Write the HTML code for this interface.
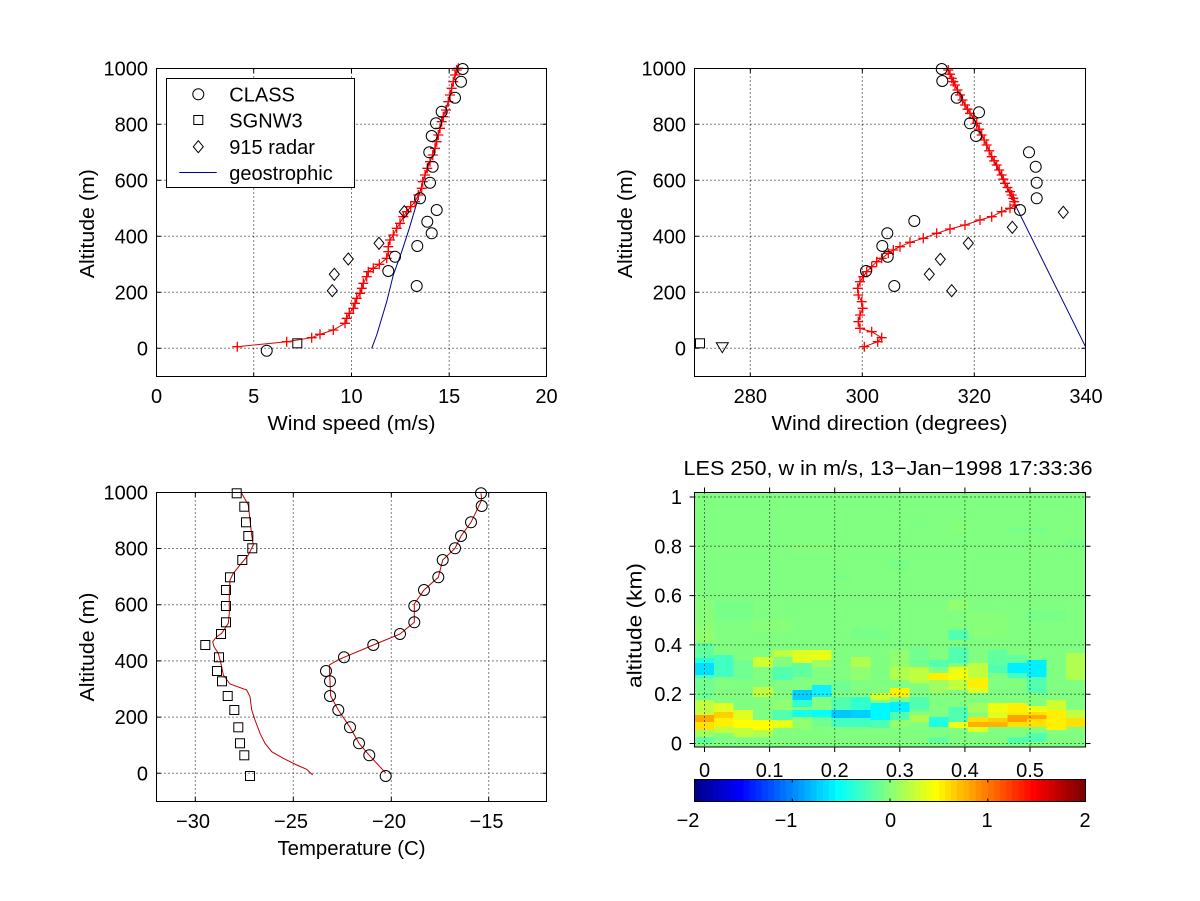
<!DOCTYPE html>
<html><head><meta charset="utf-8"><style>
html,body{margin:0;padding:0;background:#fff;}
svg{display:block;}
text{font-family:"Liberation Sans",Arial,sans-serif;font-size:20px;fill:#000;}
</style></head><body>
<svg width="1200" height="901" viewBox="0 0 1200 901" xmlns="http://www.w3.org/2000/svg">
<defs>
<marker id="pl" markerWidth="10" markerHeight="10" refX="5" refY="5" markerUnits="userSpaceOnUse" overflow="visible"><path d="M0,5H10M5,0V10" stroke="#f00" stroke-width="1.3" fill="none"/></marker>
</defs>
<rect width="1200" height="901" fill="#fff"/>

<!-- ============ TOP LEFT ============ -->
<g stroke="#000" stroke-width="1" stroke-dasharray="1 3" fill="none">
<path d="M253.7,68.5V376.5M351.5,68.5V376.5M449.2,68.5V376.5"/>
<path d="M156.5,348.3H546.5M156.5,292.3H546.5M156.5,236.3H546.5M156.5,180.3H546.5M156.5,124.3H546.5"/>
</g>
<polyline fill="none" stroke="#00008f" stroke-width="1" points="371.7,348.3 376.7,335 386.7,301.7 393.3,275 401.7,251.7 409.3,228.3 416.7,203.3 420,192 422.7,181.7 427.3,168.3 432.7,155 438.3,135 443.3,116.7 448.3,101.7 453.3,81.7 458.3,68.3"/>
<polyline fill="none" stroke="#e00000" stroke-width="1" marker-start="url(#pl)" marker-mid="url(#pl)" marker-end="url(#pl)" points="237.3,346.7 286.7,341.7 311.7,337.7 320,334.3 333.3,330 345,323.3 346.7,318.3 349.3,313.3 353.3,308.3 355,303.3 356.7,298.3 360,293.3 361.7,288.3 363.3,283.3 366.7,276.7 368.3,271.7 373.3,268.3 379.3,264.3 386.7,258.3 388.3,251.7 388.3,246.7 390,240 393.3,235 396.7,228.3 400,223.3 403.3,216.7 406.7,211.7 410.7,206.7 415,201.7 418.3,195 421.7,188.3 422.7,181.7 425,175 427.3,168.3 430,161.7 432.7,155 435,148.3 436.7,141.7 438.3,135 440,128.3 441.7,121.7 443.3,116.7 446,110 448.3,101.7 450,95 451.7,88.3 453.3,81.7 455,75 456.7,70 458.3,68.3"/>
<g fill="none" stroke="#000" stroke-width="1">
<circle cx="266.7" cy="350.7" r="5.5"/><circle cx="462.7" cy="69" r="5.5"/><circle cx="461" cy="81.7" r="5.5"/><circle cx="455" cy="97.7" r="5.5"/><circle cx="441.7" cy="111.7" r="5.5"/><circle cx="436" cy="123.3" r="5.5"/><circle cx="431.7" cy="136" r="5.5"/><circle cx="429.3" cy="152.3" r="5.5"/><circle cx="432.7" cy="166.7" r="5.5"/><circle cx="430" cy="182.7" r="5.5"/><circle cx="420" cy="198.3" r="5.5"/><circle cx="436.7" cy="210" r="5.5"/><circle cx="427.3" cy="221.7" r="5.5"/><circle cx="431.7" cy="233.3" r="5.5"/><circle cx="417.3" cy="246" r="5.5"/><circle cx="395" cy="256.7" r="5.5"/><circle cx="388.3" cy="271" r="5.5"/><circle cx="416.7" cy="286" r="5.5"/>
<rect x="292.8" y="338.8" width="9" height="9"/>
<path d="M332.3,284.7L337.3,290.7L332.3,296.7L327.3,290.7Z"/>
<path d="M334.3,268.3L339.3,274.3L334.3,280.3L329.3,274.3Z"/>
<path d="M348.3,253L353.3,259L348.3,265L343.3,259Z"/>
<path d="M379,237.3L384,243.3L379,249.3L374,243.3Z"/>
<path d="M404.3,205.7L409.3,211.7L404.3,217.7L399.3,211.7Z"/>
</g>
<rect x="166.5" y="78.5" width="188" height="109" fill="#fff" stroke="#000" stroke-width="1"/>
<g fill="none" stroke="#000" stroke-width="1">
<circle cx="198.3" cy="94.3" r="5.5"/>
<rect x="193.8" y="115.5" width="9" height="9"/>
<path d="M198.3,140.7L203.3,146.7L198.3,152.7L193.3,146.7Z"/>
</g>
<line x1="179.3" y1="172.5" x2="216.7" y2="172.5" stroke="#00008f" stroke-width="1"/>
<text x="229.3" y="101.5">CLASS</text>
<text x="229.3" y="127.7">SGNW3</text>
<text x="229.3" y="154">915 radar</text>
<text x="229.3" y="180">geostrophic</text>
<rect x="156.5" y="68.5" width="390" height="308" fill="none" stroke="#000" stroke-width="1"/>
<g stroke="#000" stroke-width="1">
<path d="M253.7,376.5v-4M351.5,376.5v-4M449.2,376.5v-4M253.7,68.5v4M351.5,68.5v4M449.2,68.5v4"/>
<path d="M156.5,348.3h4M156.5,292.3h4M156.5,236.3h4M156.5,180.3h4M156.5,124.3h4M546.5,348.3h-4M546.5,292.3h-4M546.5,236.3h-4M546.5,180.3h-4M546.5,124.3h-4"/>
</g>
<g text-anchor="end">
<text x="148" y="75.3">1000</text><text x="148" y="131.3">800</text><text x="148" y="187.3">600</text><text x="148" y="243.3">400</text><text x="148" y="299.3">200</text><text x="148" y="355.3">0</text>
</g>
<g text-anchor="middle">
<text x="156.5" y="403">0</text><text x="253.7" y="403">5</text><text x="351.5" y="403">10</text><text x="449.2" y="403">15</text><text x="546.5" y="403">20</text>
<text x="351.5" y="430" textLength="168" lengthAdjust="spacingAndGlyphs">Wind speed (m/s)</text>
<text transform="translate(94,223.7) rotate(-90)" x="0" y="0" textLength="109" lengthAdjust="spacingAndGlyphs">Altitude (m)</text>
</g>

<!-- ============ TOP RIGHT ============ -->
<g stroke="#000" stroke-width="1" stroke-dasharray="1 3" fill="none">
<path d="M750.3,68.5V376.5M862.3,68.5V376.5M974.3,68.5V376.5"/>
<path d="M694.5,348.3H1085.5M694.5,292.3H1085.5M694.5,236.3H1085.5M694.5,180.3H1085.5M694.5,124.3H1085.5"/>
</g>
<polyline fill="none" stroke="#00008f" stroke-width="1" points="1085.5,346.7 1013.3,201 1005,183.3 991.7,156.7 976.7,123.3 965,105 955,85 948.3,70"/>
<polyline fill="none" stroke="#e00000" stroke-width="1" marker-start="url(#pl)" marker-mid="url(#pl)" marker-end="url(#pl)" points="864.3,346.7 877.7,341.7 881.7,337.7 871.7,331.7 860,328.3 858.3,321.7 860,315 862.7,308.3 861.7,301.7 858.3,295 857.7,288.3 860,281.7 863.3,276.7 866.7,271.7 871.7,266.7 876.7,261.7 881.7,258.3 888.3,253.3 893.3,250 900,246.7 910,242.3 923.3,238.3 936.7,233.3 950,229 965,225 980,220 991.7,216.7 1001.7,211.7 1010,208.3 1015,205 1014.2,201.7 1013.3,198.3 1011.7,195 1010,191.7 1007.5,187.5 1005,183.3 1003.3,179.2 1001.7,175 999.2,170 996.7,165 994.2,160.8 991.7,156.7 989.2,150.8 986.7,145 984.2,140 981.7,135 979.2,129.2 976.7,123.3 973.3,118.3 970,113.3 967.5,109.2 965,105 962.5,100 960,95 957.5,90 955,85 953.3,81.7 951.7,78.3 950,74.2 948.3,70"/>
<g fill="none" stroke="#000" stroke-width="1">
<circle cx="941.7" cy="69" r="5.5"/><circle cx="942.3" cy="81" r="5.5"/><circle cx="956.7" cy="97.7" r="5.5"/><circle cx="979" cy="112.3" r="5.5"/><circle cx="970" cy="123.3" r="5.5"/><circle cx="976" cy="136" r="5.5"/><circle cx="1029" cy="152.3" r="5.5"/><circle cx="1035.7" cy="166.7" r="5.5"/><circle cx="1036.7" cy="182.7" r="5.5"/><circle cx="1036.7" cy="198.3" r="5.5"/><circle cx="1020" cy="210" r="5.5"/><circle cx="914.3" cy="221" r="5.5"/><circle cx="887.3" cy="233.3" r="5.5"/><circle cx="882.3" cy="246" r="5.5"/><circle cx="887.7" cy="256.7" r="5.5"/><circle cx="866" cy="271" r="5.5"/><circle cx="894.3" cy="286" r="5.5"/>
<path d="M1063.3,206.3L1068.3,212.3L1063.3,218.3L1058.3,212.3Z"/>
<path d="M1012.3,221.3L1017.3,227.3L1012.3,233.3L1007.3,227.3Z"/>
<path d="M968.3,237.3L973.3,243.3L968.3,249.3L963.3,243.3Z"/>
<path d="M940.3,253.3L945.3,259.3L940.3,265.3L935.3,259.3Z"/>
<path d="M929.3,268.3L934.3,274.3L929.3,280.3L924.3,274.3Z"/>
<path d="M951.7,284.7L956.7,290.7L951.7,296.7L946.7,290.7Z"/>
<rect x="695.5" y="338.8" width="9" height="9"/>
<path d="M716.3,342.7H728.3L722.3,352.7Z"/>
</g>
<rect x="694.5" y="68.5" width="391" height="308" fill="none" stroke="#000" stroke-width="1"/>
<g stroke="#000" stroke-width="1">
<path d="M750.3,376.5v-4M862.3,376.5v-4M974.3,376.5v-4M750.3,68.5v4M862.3,68.5v4M974.3,68.5v4"/>
<path d="M694.5,348.3h4M694.5,292.3h4M694.5,236.3h4M694.5,180.3h4M694.5,124.3h4M1085.5,348.3h-4M1085.5,292.3h-4M1085.5,236.3h-4M1085.5,180.3h-4M1085.5,124.3h-4"/>
</g>
<g text-anchor="end">
<text x="686" y="75.3">1000</text><text x="686" y="131.3">800</text><text x="686" y="187.3">600</text><text x="686" y="243.3">400</text><text x="686" y="299.3">200</text><text x="686" y="355.3">0</text>
</g>
<g text-anchor="middle">
<text x="750.3" y="403">280</text><text x="862.3" y="403">300</text><text x="974.3" y="403">320</text><text x="1086" y="403">340</text>
<text x="889.5" y="430" textLength="236" lengthAdjust="spacingAndGlyphs">Wind direction (degrees)</text>
<text transform="translate(632,223.7) rotate(-90)" x="0" y="0" textLength="109" lengthAdjust="spacingAndGlyphs">Altitude (m)</text>
</g>

<!-- ============ BOTTOM LEFT ============ -->
<g stroke="#000" stroke-width="1" stroke-dasharray="1 3" fill="none">
<path d="M195.3,492.5V801.5M293.3,492.5V801.5M391.3,492.5V801.5M488.7,492.5V801.5"/>
<path d="M156.5,773.3H546.5M156.5,717.1H546.5M156.5,660.9H546.5M156.5,604.7H546.5M156.5,548.5H546.5"/>
</g>
<polyline fill="none" stroke="#c00000" stroke-width="1" points="241.7,493.3 248.3,505 250,520 251.7,535 253.3,545 248.3,555 240,565 233.3,573.3 230,580 229.3,593.3 229.3,613.3 228.3,623.3 221.7,633.3 216.7,636.7 212.7,641.7 214,646.7 218.3,653.3 221.7,666.7 223.3,675 230,684 246.7,690 250,696.7 251.7,710 255,720 260,733.3 265,743.3 271.7,751.7 283.3,758.3 296.7,765 306.7,769.3 312.7,775"/>
<polyline fill="none" stroke="#c00000" stroke-width="1" points="481,493.3 481.7,500 471,522.3 461,536 455,548.3 442.7,560 438.3,577.3 424,590 414.3,604 414.3,622.3 400,634 373.3,645 344,657.3 338,660 329.3,665 330,681.3 330.7,696 338.3,710 350,727.3 359,743.3 369.3,755.3 385.7,773"/>
<g fill="none" stroke="#000" stroke-width="1">
<rect x="232.2" y="488.8" width="9" height="9"/><rect x="239.8" y="502.2" width="9" height="9"/><rect x="241.5" y="517.8" width="9" height="9"/><rect x="243.8" y="531.5" width="9" height="9"/><rect x="247.8" y="543.8" width="9" height="9"/><rect x="237.8" y="555.5" width="9" height="9"/><rect x="225.5" y="572.8" width="9" height="9"/><rect x="221.5" y="585.5" width="9" height="9"/><rect x="221.5" y="601.5" width="9" height="9"/><rect x="221.5" y="617.8" width="9" height="9"/><rect x="216.5" y="629.5" width="9" height="9"/><rect x="200.8" y="640.5" width="9" height="9"/><rect x="214.5" y="652.8" width="9" height="9"/><rect x="212.5" y="666.5" width="9" height="9"/><rect x="217.5" y="676.8" width="9" height="9"/><rect x="223.2" y="691.5" width="9" height="9"/><rect x="229.8" y="705.5" width="9" height="9"/><rect x="233.8" y="722.8" width="9" height="9"/><rect x="235.5" y="738.8" width="9" height="9"/><rect x="239.8" y="750.8" width="9" height="9"/><rect x="245.5" y="771.5" width="9" height="9"/>
<circle cx="481" cy="493.3" r="5.5"/><circle cx="481.7" cy="506" r="5.5"/><circle cx="471" cy="522.3" r="5.5"/><circle cx="461" cy="536" r="5.5"/><circle cx="455" cy="548.3" r="5.5"/><circle cx="442.7" cy="560" r="5.5"/><circle cx="438.3" cy="577.3" r="5.5"/><circle cx="424" cy="590" r="5.5"/><circle cx="414.3" cy="606" r="5.5"/><circle cx="414.3" cy="622.3" r="5.5"/><circle cx="400" cy="634" r="5.5"/><circle cx="373.3" cy="645" r="5.5"/><circle cx="344" cy="657.3" r="5.5"/><circle cx="326" cy="671" r="5.5"/><circle cx="330" cy="681.3" r="5.5"/><circle cx="330" cy="696" r="5.5"/><circle cx="338.3" cy="710" r="5.5"/><circle cx="350" cy="727.3" r="5.5"/><circle cx="359" cy="743.3" r="5.5"/><circle cx="369.3" cy="755.3" r="5.5"/><circle cx="385.7" cy="776" r="5.5"/>
</g>
<rect x="156.5" y="492.5" width="390" height="309" fill="none" stroke="#000" stroke-width="1"/>
<g stroke="#000" stroke-width="1">
<path d="M195.3,801.5v-4M293.3,801.5v-4M391.3,801.5v-4M488.7,801.5v-4M195.3,492.5v4M293.3,492.5v4M391.3,492.5v4M488.7,492.5v4"/>
<path d="M156.5,773.3h4M156.5,717.1h4M156.5,660.9h4M156.5,604.7h4M156.5,548.5h4M546.5,773.3h-4M546.5,717.1h-4M546.5,660.9h-4M546.5,604.7h-4M546.5,548.5h-4"/>
</g>
<g text-anchor="end">
<text x="148" y="499.3">1000</text><text x="148" y="555.5">800</text><text x="148" y="611.7">600</text><text x="148" y="667.9">400</text><text x="148" y="724.1">200</text><text x="148" y="780.3">0</text>
</g>
<g text-anchor="middle">
<text x="193" y="828">−30</text><text x="291" y="828">−25</text><text x="389" y="828">−20</text><text x="486.5" y="828">−15</text>
<text x="351.5" y="855" textLength="148" lengthAdjust="spacingAndGlyphs">Temperature (C)</text>
<text transform="translate(94,647) rotate(-90)" x="0" y="0" textLength="109" lengthAdjust="spacingAndGlyphs">Altitude (m)</text>
</g>

<!-- ============ BOTTOM RIGHT (heatmap) ============ -->
<g shape-rendering="crispEdges">
<rect x="694.5" y="492.5" width="391" height="254.5" fill="#80FF80"/>
<rect x="948.7" y="522" width="19.6" height="11" fill="#88FF78"/>
<rect x="1007.3" y="528" width="39" height="5" fill="#78FF88"/>
<rect x="909.6" y="522" width="19.6" height="4" fill="#78FF88"/>
<rect x="1066" y="540" width="19.5" height="7" fill="#78FF88"/>
<rect x="831.4" y="575" width="19.6" height="4" fill="#78FF88"/>
<rect x="714.1" y="600" width="39" height="20" fill="#78FF88"/>
<rect x="968.2" y="613" width="39" height="24" fill="#88FF78"/>
<rect x="694.5" y="600" width="19.6" height="27" fill="#88FF78"/>
<rect x="753.2" y="620" width="39" height="12" fill="#88FF78"/>
<rect x="850.9" y="628" width="39" height="12" fill="#78FF88"/>
<rect x="1026.9" y="610" width="39" height="12" fill="#78FF88"/>
<rect x="890" y="560" width="19.6" height="10" fill="#78FF88"/>
<rect x="792.3" y="545" width="39" height="6" fill="#88FF78"/>
<rect x="694.5" y="627" width="19.6" height="16" fill="#90FF70"/>
<rect x="694.5" y="643" width="19.6" height="15" fill="#60FFA0"/>
<rect x="694.5" y="658" width="19.6" height="5" fill="#20FFE0"/>
<rect x="694.5" y="663" width="19.6" height="12" fill="#00E0FF"/>
<rect x="694.5" y="675" width="19.6" height="3" fill="#40FFC0"/>
<rect x="694.5" y="678" width="19.6" height="22" fill="#70FF90"/>
<rect x="694.5" y="700" width="19.6" height="15" fill="#C0FF40"/>
<rect x="694.5" y="715" width="19.6" height="7" fill="#FFA800"/>
<rect x="694.5" y="722" width="19.6" height="8" fill="#FFE000"/>
<rect x="694.5" y="730" width="19.6" height="7" fill="#A0FF60"/>
<rect x="694.5" y="737" width="19.6" height="6" fill="#60FFA0"/>
<rect x="714.1" y="655" width="19.6" height="22" fill="#40FFC0"/>
<rect x="714.1" y="703" width="19.6" height="9" fill="#E0FF20"/>
<rect x="714.1" y="712" width="19.6" height="6" fill="#FFD000"/>
<rect x="714.1" y="718" width="19.6" height="9" fill="#FFF000"/>
<rect x="714.1" y="727" width="19.6" height="6" fill="#C0FF40"/>
<rect x="733.6" y="660" width="19.6" height="20" fill="#70FF90"/>
<rect x="733.6" y="710" width="19.6" height="10" fill="#E0FF20"/>
<rect x="733.6" y="720" width="19.6" height="8" fill="#FFFF00"/>
<rect x="733.6" y="728" width="19.6" height="9" fill="#C0FF40"/>
<rect x="753.2" y="657" width="19.6" height="10" fill="#D0FF30"/>
<rect x="753.2" y="687" width="19.6" height="10" fill="#C0FF40"/>
<rect x="753.2" y="720" width="19.6" height="10" fill="#FFFF00"/>
<rect x="753.2" y="730" width="19.6" height="7" fill="#B0FF50"/>
<rect x="772.7" y="650" width="19.6" height="7" fill="#C0FF40"/>
<rect x="772.7" y="667" width="19.6" height="13" fill="#50FFB0"/>
<rect x="772.7" y="700" width="19.6" height="10" fill="#90FF70"/>
<rect x="772.7" y="710" width="19.6" height="10" fill="#50FFB0"/>
<rect x="772.7" y="720" width="19.6" height="8" fill="#E8FF18"/>
<rect x="792.3" y="650" width="19.6" height="13" fill="#E0FF20"/>
<rect x="792.3" y="663" width="19.6" height="14" fill="#60FFA0"/>
<rect x="792.3" y="690" width="19.6" height="10" fill="#00D0FF"/>
<rect x="792.3" y="700" width="19.6" height="7" fill="#30FFD0"/>
<rect x="792.3" y="710" width="19.6" height="7" fill="#10FFF0"/>
<rect x="792.3" y="717" width="19.6" height="13" fill="#90FF70"/>
<rect x="811.8" y="650" width="19.6" height="10" fill="#E8FF18"/>
<rect x="811.8" y="660" width="19.6" height="7" fill="#A0FF60"/>
<rect x="811.8" y="685" width="19.6" height="12" fill="#10F0FF"/>
<rect x="811.8" y="710" width="19.6" height="7" fill="#00FFFF"/>
<rect x="811.8" y="717" width="19.6" height="10" fill="#70FF90"/>
<rect x="831.4" y="680" width="19.6" height="13" fill="#70FF90"/>
<rect x="831.4" y="697" width="19.6" height="13" fill="#50FFB0"/>
<rect x="831.4" y="710" width="19.6" height="8" fill="#00C8FF"/>
<rect x="831.4" y="718" width="19.6" height="9" fill="#40FFC0"/>
<rect x="850.9" y="657" width="19.6" height="10" fill="#B0FF50"/>
<rect x="850.9" y="667" width="19.6" height="13" fill="#90FF70"/>
<rect x="850.9" y="697" width="19.6" height="13" fill="#30FFD0"/>
<rect x="850.9" y="710" width="19.6" height="8" fill="#00D0FF"/>
<rect x="850.9" y="718" width="19.6" height="9" fill="#40FFC0"/>
<rect x="870.5" y="693" width="19.6" height="7" fill="#D0FF30"/>
<rect x="870.5" y="703" width="19.6" height="17" fill="#00F8FF"/>
<rect x="870.5" y="720" width="19.6" height="8" fill="#50FFB0"/>
<rect x="890" y="650" width="19.6" height="17" fill="#90FF70"/>
<rect x="890" y="667" width="19.6" height="13" fill="#B0FF50"/>
<rect x="890" y="688" width="19.6" height="9" fill="#FFF000"/>
<rect x="890" y="702" width="19.6" height="10" fill="#00F0FF"/>
<rect x="890" y="712" width="19.6" height="8" fill="#50FFB0"/>
<rect x="890" y="720" width="19.6" height="7" fill="#90FF70"/>
<rect x="909.6" y="647" width="19.6" height="20" fill="#70FF90"/>
<rect x="909.6" y="667" width="19.6" height="16" fill="#C0FF40"/>
<rect x="909.6" y="697" width="19.6" height="13" fill="#50FFB0"/>
<rect x="909.6" y="715" width="19.6" height="7" fill="#B0FF50"/>
<rect x="929.1" y="660" width="19.6" height="7" fill="#50FFB0"/>
<rect x="929.1" y="673" width="19.6" height="7" fill="#FFF000"/>
<rect x="929.1" y="680" width="19.6" height="13" fill="#A0FF60"/>
<rect x="929.1" y="717" width="19.6" height="10" fill="#20FFE0"/>
<rect x="929.1" y="737" width="19.6" height="6" fill="#60FFA0"/>
<rect x="948.7" y="600" width="19.6" height="10" fill="#90FF70"/>
<rect x="948.7" y="630" width="19.6" height="10" fill="#50FFB0"/>
<rect x="948.7" y="647" width="19.6" height="16" fill="#50FFB0"/>
<rect x="948.7" y="667" width="19.6" height="13" fill="#F0FF10"/>
<rect x="948.7" y="680" width="19.6" height="10" fill="#C0FF40"/>
<rect x="948.7" y="707" width="19.6" height="15" fill="#50FFB0"/>
<rect x="948.7" y="722" width="19.6" height="6" fill="#F0FF10"/>
<rect x="968.2" y="663" width="19.6" height="15" fill="#C0FF40"/>
<rect x="968.2" y="678" width="19.6" height="10" fill="#FFF000"/>
<rect x="968.2" y="688" width="19.6" height="5" fill="#E0FF20"/>
<rect x="968.2" y="703" width="19.6" height="10" fill="#A0FF60"/>
<rect x="968.2" y="717" width="19.6" height="5" fill="#FFE000"/>
<rect x="968.2" y="722" width="19.6" height="5" fill="#FFB000"/>
<rect x="968.2" y="727" width="19.6" height="5" fill="#E0FF20"/>
<rect x="987.8" y="650" width="19.6" height="15" fill="#60FFA0"/>
<rect x="987.8" y="665" width="19.6" height="8" fill="#50FFB0"/>
<rect x="987.8" y="703" width="19.6" height="9" fill="#F0FF10"/>
<rect x="987.8" y="712" width="19.6" height="6" fill="#E0FF20"/>
<rect x="987.8" y="718" width="19.6" height="4" fill="#FFD000"/>
<rect x="987.8" y="722" width="19.6" height="5" fill="#FFB000"/>
<rect x="1007.3" y="655" width="19.6" height="8" fill="#60FFA0"/>
<rect x="1007.3" y="663" width="19.6" height="10" fill="#00F0FF"/>
<rect x="1007.3" y="673" width="19.6" height="5" fill="#40FFC0"/>
<rect x="1007.3" y="703" width="19.6" height="12" fill="#FFF000"/>
<rect x="1007.3" y="715" width="19.6" height="7" fill="#FFA000"/>
<rect x="1007.3" y="722" width="19.6" height="5" fill="#FFE000"/>
<rect x="1007.3" y="737" width="19.6" height="6" fill="#50FFB0"/>
<rect x="1026.9" y="660" width="19.6" height="17" fill="#00F0FF"/>
<rect x="1026.9" y="677" width="19.6" height="16" fill="#50FFB0"/>
<rect x="1026.9" y="706" width="19.6" height="6" fill="#F0FF10"/>
<rect x="1026.9" y="712" width="19.6" height="3" fill="#FFE000"/>
<rect x="1026.9" y="715" width="19.6" height="4" fill="#FFA800"/>
<rect x="1026.9" y="719" width="19.6" height="8" fill="#FFE000"/>
<rect x="1026.9" y="733" width="19.6" height="9" fill="#50FFB0"/>
<rect x="1046.4" y="700" width="19.6" height="10" fill="#D0FF30"/>
<rect x="1046.4" y="710" width="19.6" height="20" fill="#FFF000"/>
<rect x="1066" y="653" width="19.5" height="27" fill="#B0FF50"/>
<rect x="1066" y="710" width="19.5" height="8" fill="#C0FF40"/>
<rect x="1066" y="718" width="19.5" height="9" fill="#FFE000"/>
</g>
<g stroke="#000" stroke-width="1" stroke-dasharray="1 3" fill="none">
<path d="M704.5,492.5V747M769.6,492.5V747M834.7,492.5V747M899.8,492.5V747M964.9,492.5V747M1030,492.5V747"/>
<path d="M694.5,743.5H1085.5M694.5,694.2H1085.5M694.5,644.9H1085.5M694.5,595.6H1085.5M694.5,546.3H1085.5M694.5,497H1085.5"/>
</g>
<rect x="694.5" y="492.5" width="391" height="254.5" fill="none" stroke="#000" stroke-width="1"/>
<g stroke="#000" stroke-width="1">
<path d="M704.5,492.5v-5M769.6,492.5v-5M834.7,492.5v-5M899.8,492.5v-5M964.9,492.5v-5M1030,492.5v-5"/>
<path d="M704.5,747v5M769.6,747v5M834.7,747v5M899.8,747v5M964.9,747v5M1030,747v5"/>
<path d="M694.5,743.5h-5M694.5,694.2h-5M694.5,644.9h-5M694.5,595.6h-5M694.5,546.3h-5M694.5,497h-5"/>
<path d="M1085.5,743.5h5M1085.5,694.2h5M1085.5,644.9h5M1085.5,595.6h5M1085.5,546.3h5M1085.5,497h5"/>
</g>
<g text-anchor="end">
<text x="682" y="504">1</text><text x="682" y="553.3">0.8</text><text x="682" y="602.6">0.6</text><text x="682" y="652">0.4</text><text x="682" y="701.2">0.2</text><text x="682" y="750.5">0</text>
</g>
<g text-anchor="middle">
<text x="704.5" y="777">0</text><text x="769.6" y="777">0.1</text><text x="834.7" y="777">0.2</text><text x="899.8" y="777">0.3</text><text x="964.9" y="777">0.4</text><text x="1030" y="777">0.5</text>
<text x="888" y="475" textLength="409" lengthAdjust="spacingAndGlyphs">LES 250, w in m/s, 13−Jan−1998 17:33:36</text>
<text transform="translate(641.7,625.5) rotate(-90)" x="0" y="0" textLength="125" lengthAdjust="spacingAndGlyphs">altitude (km)</text>
</g>

<g shape-rendering="crispEdges">
<rect x="694.5" y="779.5" width="6.3" height="22" fill="#00008F"/>
<rect x="700.6" y="779.5" width="6.3" height="22" fill="#00009F"/>
<rect x="706.7" y="779.5" width="6.3" height="22" fill="#0000AF"/>
<rect x="712.8" y="779.5" width="6.3" height="22" fill="#0000BF"/>
<rect x="718.9" y="779.5" width="6.3" height="22" fill="#0000CF"/>
<rect x="725.1" y="779.5" width="6.3" height="22" fill="#0000DF"/>
<rect x="731.2" y="779.5" width="6.3" height="22" fill="#0000EF"/>
<rect x="737.3" y="779.5" width="6.3" height="22" fill="#0000FF"/>
<rect x="743.4" y="779.5" width="6.3" height="22" fill="#0010FF"/>
<rect x="749.5" y="779.5" width="6.3" height="22" fill="#0020FF"/>
<rect x="755.6" y="779.5" width="6.3" height="22" fill="#0030FF"/>
<rect x="761.7" y="779.5" width="6.3" height="22" fill="#0040FF"/>
<rect x="767.8" y="779.5" width="6.3" height="22" fill="#0050FF"/>
<rect x="773.9" y="779.5" width="6.3" height="22" fill="#0060FF"/>
<rect x="780" y="779.5" width="6.3" height="22" fill="#0070FF"/>
<rect x="786.1" y="779.5" width="6.3" height="22" fill="#0080FF"/>
<rect x="792.3" y="779.5" width="6.3" height="22" fill="#008FFF"/>
<rect x="798.4" y="779.5" width="6.3" height="22" fill="#009FFF"/>
<rect x="804.5" y="779.5" width="6.3" height="22" fill="#00AFFF"/>
<rect x="810.6" y="779.5" width="6.3" height="22" fill="#00BFFF"/>
<rect x="816.7" y="779.5" width="6.3" height="22" fill="#00CFFF"/>
<rect x="822.8" y="779.5" width="6.3" height="22" fill="#00DFFF"/>
<rect x="828.9" y="779.5" width="6.3" height="22" fill="#00EFFF"/>
<rect x="835" y="779.5" width="6.3" height="22" fill="#00FFFF"/>
<rect x="841.1" y="779.5" width="6.3" height="22" fill="#10FFEF"/>
<rect x="847.2" y="779.5" width="6.3" height="22" fill="#20FFDF"/>
<rect x="853.3" y="779.5" width="6.3" height="22" fill="#30FFCF"/>
<rect x="859.5" y="779.5" width="6.3" height="22" fill="#40FFBF"/>
<rect x="865.6" y="779.5" width="6.3" height="22" fill="#50FFAF"/>
<rect x="871.7" y="779.5" width="6.3" height="22" fill="#60FF9F"/>
<rect x="877.8" y="779.5" width="6.3" height="22" fill="#70FF8F"/>
<rect x="883.9" y="779.5" width="6.3" height="22" fill="#80FF80"/>
<rect x="890" y="779.5" width="6.3" height="22" fill="#8FFF70"/>
<rect x="896.1" y="779.5" width="6.3" height="22" fill="#9FFF60"/>
<rect x="902.2" y="779.5" width="6.3" height="22" fill="#AFFF50"/>
<rect x="908.3" y="779.5" width="6.3" height="22" fill="#BFFF40"/>
<rect x="914.4" y="779.5" width="6.3" height="22" fill="#CFFF30"/>
<rect x="920.6" y="779.5" width="6.3" height="22" fill="#DFFF20"/>
<rect x="926.7" y="779.5" width="6.3" height="22" fill="#EFFF10"/>
<rect x="932.8" y="779.5" width="6.3" height="22" fill="#FFFF00"/>
<rect x="938.9" y="779.5" width="6.3" height="22" fill="#FFEF00"/>
<rect x="945" y="779.5" width="6.3" height="22" fill="#FFDF00"/>
<rect x="951.1" y="779.5" width="6.3" height="22" fill="#FFCF00"/>
<rect x="957.2" y="779.5" width="6.3" height="22" fill="#FFBF00"/>
<rect x="963.3" y="779.5" width="6.3" height="22" fill="#FFAF00"/>
<rect x="969.4" y="779.5" width="6.3" height="22" fill="#FF9F00"/>
<rect x="975.5" y="779.5" width="6.3" height="22" fill="#FF8F00"/>
<rect x="981.6" y="779.5" width="6.3" height="22" fill="#FF8000"/>
<rect x="987.8" y="779.5" width="6.3" height="22" fill="#FF7000"/>
<rect x="993.9" y="779.5" width="6.3" height="22" fill="#FF6000"/>
<rect x="1000" y="779.5" width="6.3" height="22" fill="#FF5000"/>
<rect x="1006.1" y="779.5" width="6.3" height="22" fill="#FF4000"/>
<rect x="1012.2" y="779.5" width="6.3" height="22" fill="#FF3000"/>
<rect x="1018.3" y="779.5" width="6.3" height="22" fill="#FF2000"/>
<rect x="1024.4" y="779.5" width="6.3" height="22" fill="#FF1000"/>
<rect x="1030.5" y="779.5" width="6.3" height="22" fill="#FF0000"/>
<rect x="1036.6" y="779.5" width="6.3" height="22" fill="#EF0000"/>
<rect x="1042.7" y="779.5" width="6.3" height="22" fill="#DF0000"/>
<rect x="1048.8" y="779.5" width="6.3" height="22" fill="#CF0000"/>
<rect x="1055" y="779.5" width="6.3" height="22" fill="#BF0000"/>
<rect x="1061.1" y="779.5" width="6.3" height="22" fill="#AF0000"/>
<rect x="1067.2" y="779.5" width="6.3" height="22" fill="#9F0000"/>
<rect x="1073.3" y="779.5" width="6.3" height="22" fill="#8F0000"/>
<rect x="1079.4" y="779.5" width="6.1" height="22" fill="#800000"/>
</g>
<rect x="694.5" y="779.5" width="391" height="22" fill="none" stroke="#000" stroke-width="1"/>
<g stroke="#000" stroke-width="1">
<path d="M792.3,779.5v3M890,779.5v3M987.8,779.5v3M792.3,801.5v-3M890,801.5v-3M987.8,801.5v-3"/>
</g>
<g text-anchor="middle">
<text x="688" y="827">−2</text><text x="786" y="827">−1</text><text x="890.5" y="827">0</text><text x="987" y="827">1</text><text x="1085" y="827">2</text>
</g>
</svg>
</body></html>
